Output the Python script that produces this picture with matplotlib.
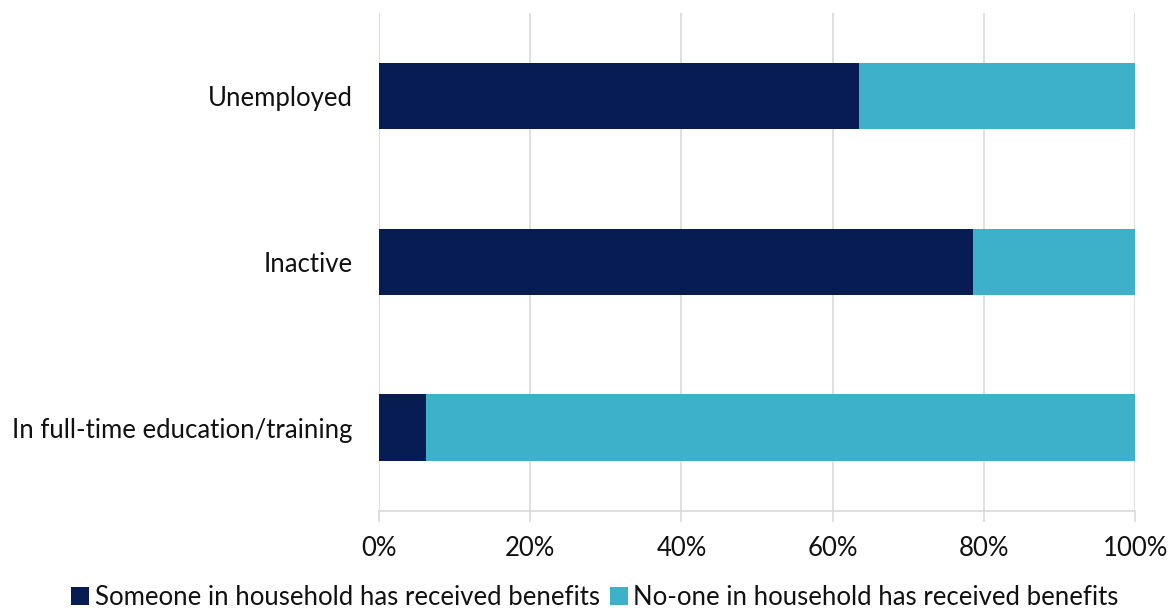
import matplotlib
matplotlib.use("Agg")
import matplotlib.pyplot as plt
from matplotlib.patches import Patch

plt.rcParams['font.family'] = ['Lato', 'DejaVu Sans']

categories = ["In full-time education/training", "Inactive", "Unemployed"]
received = [6.2, 78.6, 63.5]
not_received = [93.8, 21.4, 36.5]
series_names = ["Someone in household has received benefits",
                "No-one in household has received benefits"]
xticks = [0, 20, 40, 60, 80, 100]
xtick_labels = ["0%", "20%", "40%", "60%", "80%", "100%"]

dark = "#071C52"
teal = "#3DB1C9"
fs = 18.5

fig = plt.figure(figsize=(11.71, 6.12), dpi=100)
ax = fig.add_axes([0.3237, 0.1658, 0.6456, 0.813])

y = range(len(categories))
ax.barh(y, received, height=0.4, color=dark, zorder=3)
ax.barh(y, not_received, left=received, height=0.4, color=teal, zorder=3)

ax.set_xlim(0, 100)
ax.set_ylim(-0.5, 2.5)
ax.set_yticks(list(y))
ax.set_yticklabels(categories, fontsize=fs, color="#111111")
ax.set_xticks(xticks)
ax.set_xticklabels(xtick_labels, fontsize=fs, color="#111111")

ax.grid(axis="x", color="#D9D9D9", linewidth=1.2, zorder=0)
for s in ["top", "right", "left"]:
    ax.spines[s].set_visible(False)
ax.spines["bottom"].set_color("#D9D9D9")
ax.spines["bottom"].set_linewidth(1.2)
ax.tick_params(axis="y", length=0, pad=19)
ax.tick_params(axis="x", length=8, width=1.2, color="#D9D9D9", pad=10)

handles = [Patch(facecolor=dark), Patch(facecolor=teal)]
fig.legend(handles, series_names, loc="lower center", bbox_to_anchor=(0.508, -0.035),
           ncol=2, frameon=False, fontsize=fs, handlelength=0.7, handleheight=0.7,
           handletextpad=0.2, columnspacing=0.4, labelcolor="#111111")

fig.savefig("out.png", dpi=100, facecolor="white")
